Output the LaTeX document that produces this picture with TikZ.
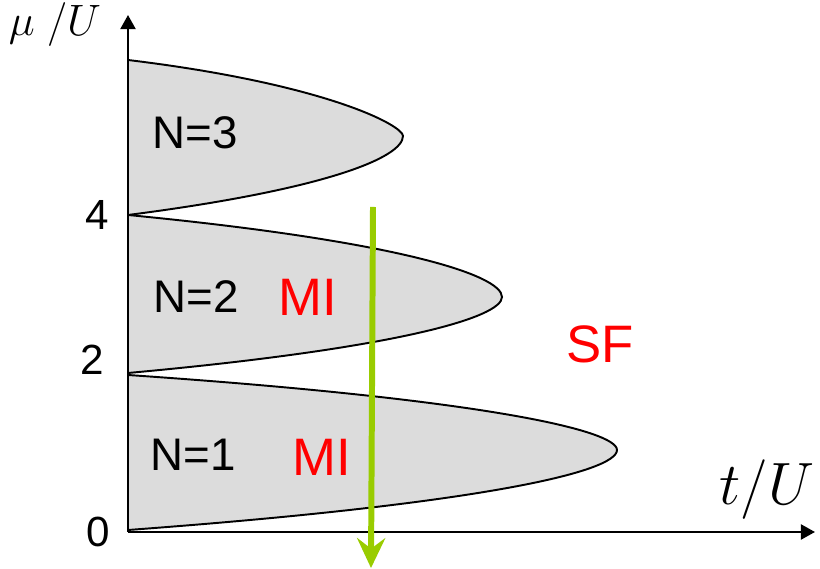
\RequirePackage{fix-cm}
\documentclass[tikz,border=0pt]{standalone}
\usepackage{fontspec}
\setmainfont{Liberation Sans}
\usetikzlibrary{arrows.meta}

\definecolor{lobegray}{RGB}{220,220,220}
\definecolor{scangreen}{RGB}{153,204,0}

\tikzset{
  lobe/.style={draw=black, fill=lobegray, line width=1.1pt},
  axis/.style={line width=1.3pt, -{Triangle[width=8.5pt,length=8pt]}},
  phase/.style={text=red, font=\fontsize{30}{34}\selectfont},
  lobelabel/.style={font=\fontsize{26}{30}\selectfont},
  ticklabel/.style={font=\fontsize{24}{28}\selectfont},
  axislabel/.style={font=\fontsize{25}{30}\selectfont},
}

\begin{document}
\begin{tikzpicture}
    \useasboundingbox (0,0) rectangle (16.4,11.38);

    % Mott lobes
    \filldraw[lobe] (2.56,3.88) .. controls (9.60,3.40) and (12.34,2.78) .. (12.34,2.38)
        .. controls (12.34,1.94) and (9.60,1.30) .. (2.56,0.78) -- cycle;
    \filldraw[lobe] (2.56,7.08) .. controls (7.94,6.56) and (10.04,5.88) .. (10.04,5.44)
        .. controls (10.04,5.03) and (7.94,4.41) .. (2.56,3.92) -- cycle;
    \filldraw[lobe] (2.56,10.18) .. controls (6.52,9.70) and (8.06,8.87) .. (8.06,8.66)
        .. controls (8.06,8.23) and (6.52,7.59) .. (2.56,7.08) -- cycle;

    % axes
    \coordinate (origin) at (2.56,0.74);
    \coordinate (ytop) at (2.56,11.08);
    \coordinate (xend) at (16.30,0.74);
    \draw[axis] (origin) -- (ytop);
    \draw[axis] (origin) -- (xend);

    \node[axislabel] (mulabel) at (1.10,10.88) {$\mu\ /U$};
    \node[axislabel, font=\fontsize{34}{38}\selectfont] (tlabel) at (15.34,1.58) {$t/U$};

    \node[ticklabel] (tick0) at (1.96,0.74) {0};
    \node[ticklabel] (tick2) at (1.84,4.18) {2};
    \node[ticklabel] (tick4) at (1.94,7.08) {4};

    \node[lobelabel] (n3) at (3.90,8.72) {N=3};
    \node[lobelabel] (n2) at (3.92,5.44) {N=2};
    \node[lobelabel] (n1) at (3.86,2.28) {N=1};

    \node[phase] (mi2) at (6.16,5.44) {MI};
    \node[phase] (mi1) at (6.44,2.24) {MI};
    \node[phase] (sf) at (12.00,4.50) {SF};

    % scan through the lobes
    \coordinate (scantop) at (7.46,7.24);
    \coordinate (scanbot) at (7.42,0.02);
    \draw[scangreen, line width=3.4pt, -{Stealth[width=16pt,length=17pt,inset=6pt]}] (scantop) -- (scanbot);
\end{tikzpicture}
\end{document}
